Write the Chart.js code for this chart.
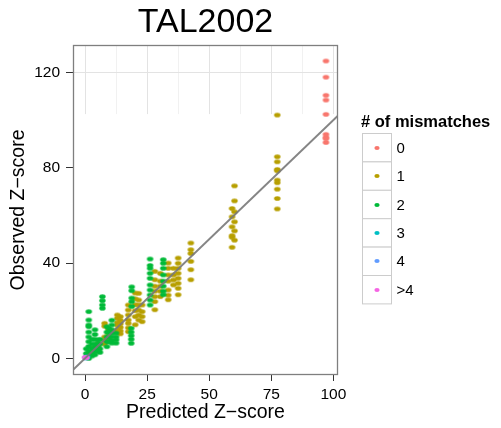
<!DOCTYPE html>
<html>
<head>
<meta charset="utf-8">
<title>TAL2002</title>
<script src="https://cdn.jsdelivr.net/npm/chart.js@4/dist/chart.umd.min.js"></script>
<style>
  html, body { margin: 0; padding: 0; background: #fff; }
</style>
</head>
<body>
<canvas id="chart" width="501" height="428"></canvas>
<script>
// mismatch classes and their colours (ggplot hue palette)
var mismatchLabels = ["0", "1", "2", "3", "4", ">4"];
var mismatchColors = ["#F8766D", "#B79F00", "#00BA38", "#00BFC4", "#619CFF", "#F564E3"];

var xTickValues = [0, 25, 50, 75, 100];
var yTickValues = [0, 40, 80, 120];

// 0 mismatches
var pred0 = [97, 97, 97, 97, 97, 97, 97, 97, 97];
var obs0 = [124.8, 118.0, 110.4, 108.4, 102.4, 94.0, 92.8, 92.2, 90.6];

// 1 mismatch
var pred1 = [
  77.4, 77.4, 77.4, 77.4, 77.4, 77.4, 77.4, 77.4, 77.4, 77.4,
  60.2, 60.2, 60.2, 60.2, 60.2, 60.2,
  59.2, 59.2, 59.2, 59.2, 59.2, 59.2,
  42.6, 42.6, 42.6, 42.6, 42.6, 42.6,
  37.5, 37.5, 37.5, 37.5, 37.5, 37.5, 37.5, 37.5,
  35.6, 35.6, 35.6, 35.6,
  33.5, 33.5, 33.5, 33.5, 33.5, 33.5, 33.5,
  30.3, 30.3, 30.3, 30.3, 30.3,
  28.1, 28.1, 28.1, 28.1, 28.1, 28.1, 28.1,
  23.0, 23.0, 23.0, 23.0,
  21.6, 21.6, 21.6, 21.6, 21.6, 21.6,
  20.2, 20.2, 20.2, 20.2, 20.2, 20.2,
  17.4, 17.4, 17.4, 17.4, 17.4, 17.4, 17.4,
  14.2, 14.2, 14.2, 14.2, 14.2, 14.2,
  13.0, 13.0, 13.0, 13.0, 13.0, 13.0,
  9.5, 9.5, 9.5,
  7.9, 7.9, 7.9, 7.9, 7.9,
  5.2, 5.2, 5.2,
  3.5, 3.5
];
var obs1 = [
  102.1, 84.6, 82.5, 79.3, 78.7, 74.8, 73.7, 71.0, 67.1, 62.7,
  72.4, 66.1, 61.5, 57.3, 53.5, 49.6,
  62.9, 59.4, 55.2, 50.8, 46.6, 51.5,
  48.4, 45.6, 44.0, 40.7, 37.2, 33.0,
  42.1, 39.9, 37.8, 35.7, 33.6, 31.5, 29.4, 26.7,
  37.8, 35.0, 32.9, 30.8,
  40.0, 37.8, 35.0, 32.4, 28.7, 26.5, 24.6,
  35.7, 32.4, 30.3, 28.2, 25.9,
  36.5, 33.0, 30.3, 28.2, 25.9, 23.8, 20.4,
  22.4, 19.6, 17.5, 15.4,
  27.3, 24.5, 22.4, 20.3, 18.2, 16.1,
  27.4, 25.0, 22.5, 20.0, 17.5, 14.1,
  22.4, 20.3, 18.2, 16.1, 14.7, 12.8, 11.2,
  17.5, 16.0, 14.5, 13.0, 11.5, 10.3,
  18.2, 16.8, 15.0, 13.9, 12.0, 11.0,
  12.0, 10.5, 8.4,
  14.7, 13.5, 9.0, 7.5, 6.0,
  6.3, 4.9, 3.5,
  3.0, 4.5
];

// 2 mismatches
var pred2 = [
  31.5, 31.5, 31.5, 31.5, 31.5, 31.5, 31.5, 31.5,
  26.2, 26.2, 26.2, 26.2, 26.2, 26.2, 26.2, 26.2, 26.2, 26.2,
  18.8, 18.8, 18.8, 18.8, 18.8,
  18.6, 18.6, 18.6, 18.6, 18.6,
  12.5, 12.5, 12.5, 12.5,
  10.8, 10.8, 10.8, 10.8, 10.8, 10.8, 10.8,
  9.6, 9.6, 9.6, 9.6,
  8.8, 8.8, 8.8, 8.8, 8.8,
  7.0, 7.0, 7.0, 7.0,
  6.0, 6.0, 6.0, 6.0,
  5.2, 5.2, 5.2, 5.2,
  4.0, 4.0, 4.0, 4.0, 4.0, 4.0, 4.0,
  2.8, 2.8, 2.8, 2.8, 2.8,
  1.5, 1.5, 1.5, 1.5, 1.5, 1.5, 1.5, 1.5, 1.5, 1.5, 1.5,
  0.5, 0.5, 0.5
];
var obs2 = [
  41.4, 39.9, 37.8, 35.0, 32.4, 30.3, 28.2, 26.7,
  41.7, 39.0, 37.8, 35.7, 33.6, 30.8, 28.7, 26.6, 24.5, 22.4,
  30.0, 28.4, 25.3, 23.8, 21.8,
  12.6, 11.0, 9.5, 8.0, 6.3,
  10.6, 9.0, 7.8, 6.4,
  16.0, 14.0, 12.0, 10.5, 9.0, 7.5, 6.4,
  12.6, 11.0, 9.0, 7.0,
  13.3, 11.0, 9.0, 7.0, 4.9,
  25.9, 24.2, 22.4, 21.0,
  8.0, 6.0, 4.0, 2.5,
  7.7, 6.0, 4.5, 3.0,
  12.0, 10.0, 8.0, 6.0, 4.5, 3.0, 1.5,
  8.0, 6.0, 4.0, 2.0, 1.0,
  19.6, 16.1, 14.0, 13.3, 11.0, 9.0, 7.0, 5.0, 3.0, 1.5, 0.0,
  4.0, 2.0, 0.5
];

// 3, 4 and more than 4 mismatches
var pred3 = [0.8, 0.3];
var obs3 = [0.6, 0.2];
var pred4 = [0.5];
var obs4 = [0.3];
var pred5 = [0.0, 0.6];
var obs5 = [0.4, 0.3];

// fitted line y = x
var lineX = [-10, 110];
var lineY = [-10, 110];

// gridlines are only drawn above this observed value
var gridFloor = 102.5;

var FONT = "'Liberation Sans', Arial, Helvetica, sans-serif";

function zip(xs, ys) {
  var out = [];
  for (var i = 0; i < xs.length; i++) out.push({ x: xs[i], y: ys[i] });
  return out;
}

// small horizontal ellipse used as point marker
function makeDot(color, rx, ry) {
  var c = document.createElement("canvas");
  c.width = Math.ceil(rx * 2) + 2;
  c.height = Math.ceil(ry * 2) + 2;
  var g = c.getContext("2d");
  g.fillStyle = color;
  g.beginPath();
  g.ellipse(c.width / 2, c.height / 2, rx, ry, 0, 0, Math.PI * 2);
  g.fill();
  return c;
}

var preds = [pred0, pred1, pred2, pred3, pred4, pred5];
var obss = [obs0, obs1, obs2, obs3, obs4, obs5];
var legendDots = [];

var datasets = [];
for (var i = 0; i < mismatchLabels.length; i++) {
  legendDots.push(makeDot(mismatchColors[i], 2.6, 1.9));
  datasets.push({
    type: "scatter",
    label: mismatchLabels[i],
    data: zip(preds[i], obss[i]),
    pointStyle: makeDot(mismatchColors[i], 3.2, 2.3),
    backgroundColor: mismatchColors[i],
    borderColor: mismatchColors[i],
    // green over gold, rare classes on top
    order: [6, 5, 4, 3, 2, 1][i]
  });
}
datasets.push({
  type: "line",
  label: "fit",
  data: zip(lineX, lineY),
  borderColor: "rgba(120,120,120,0.9)",
  borderWidth: 2,
  pointRadius: 0,
  fill: false,
  order: 0
});

var panelPlugin = {
  id: "panel",
  beforeDatasetsDraw: function (chart) {
    var ctx = chart.ctx, a = chart.chartArea;
    var xs = chart.scales.x, ys = chart.scales.y;
    var floorY = ys.getPixelForValue(gridFloor);
    ctx.save();
    ctx.lineWidth = 1;
    // vertical grid: minor lines between the major ones
    for (var i = 0; i < xTickValues.length; i++) {
      var px = Math.round(xs.getPixelForValue(xTickValues[i])) + 0.5;
      ctx.strokeStyle = "#e3e3e3";
      ctx.beginPath(); ctx.moveTo(px, a.top); ctx.lineTo(px, floorY); ctx.stroke();
      if (i < xTickValues.length - 1) {
        var mx = Math.round(xs.getPixelForValue((xTickValues[i] + xTickValues[i + 1]) / 2)) + 0.5;
        ctx.strokeStyle = "#f1f1f1";
        ctx.beginPath(); ctx.moveTo(mx, a.top); ctx.lineTo(mx, floorY); ctx.stroke();
      }
    }
    // horizontal grid above the floor
    for (var j = 0; j < yTickValues.length; j++) {
      if (yTickValues[j] <= gridFloor) continue;
      var py = Math.round(ys.getPixelForValue(yTickValues[j])) + 0.5;
      ctx.strokeStyle = "#e3e3e3";
      ctx.beginPath(); ctx.moveTo(a.left, py); ctx.lineTo(a.right, py); ctx.stroke();
    }
    ctx.restore();
  },
  afterDatasetsDraw: function (chart) {
    var ctx = chart.ctx, a = chart.chartArea;
    ctx.save();
    ctx.strokeStyle = "#7f7f7f";
    ctx.lineWidth = 1.3;
    ctx.strokeRect(a.left + 0.5, a.top + 0.5, a.right - a.left - 1, a.bottom - a.top - 1);
    ctx.restore();
  },
  afterDraw: function (chart) {
    // legend with boxed keys on the right
    var ctx = chart.ctx;
    var lx = 362.5, ly = 133.5, kw = 29, kh = 28.4;
    ctx.save();
    ctx.fillStyle = "#000";
    ctx.font = "bold 16.5px " + FONT;
    ctx.textBaseline = "alphabetic";
    ctx.textAlign = "left";
    ctx.fillText("# of mismatches", 361, 127);
    ctx.font = "15px " + FONT;
    ctx.textBaseline = "middle";
    for (var i = 0; i < mismatchLabels.length; i++) {
      var top = ly + i * kh;
      ctx.fillStyle = "#fff";
      ctx.fillRect(lx, top, kw, kh);
      ctx.strokeStyle = "#cccccc";
      ctx.lineWidth = 1;
      ctx.strokeRect(lx, top, kw, kh);
      var d = legendDots[i];
      ctx.drawImage(d, Math.round(lx + kw / 2 - d.width / 2), Math.round(top + kh / 2 - d.height / 2));
      ctx.fillStyle = "#000";
      ctx.fillText(mismatchLabels[i], lx + kw + 5, top + kh / 2 + 1);
    }
    ctx.restore();
  }
};

var ctx = document.getElementById("chart").getContext("2d");

var chart = new Chart(ctx, {
  type: "scatter",
  data: { datasets: datasets },
  options: {
    responsive: false,
    animation: false,
    devicePixelRatio: 1,
    layout: { padding: { left: 0, right: 163, top: 0, bottom: 0 } },
    plugins: {
      legend: { display: false },
      tooltip: { enabled: false },
      title: {
        display: true,
        text: "TAL2002",
        fullSize: false,
        color: "#000",
        font: { family: FONT, size: 34, weight: "normal", lineHeight: 1.2 },
        padding: { top: 2, bottom: 2.2 }
      }
    },
    scales: {
      x: {
        type: "linear",
        min: -4.85,
        max: 101.85,
        afterBuildTicks: function (axis) {
          axis.ticks = xTickValues.map(function (v) { return { value: v }; });
        },
        afterFit: function (axis) { axis.height = 53; },
        border: { display: false },
        grid: { drawOnChartArea: false, drawTicks: true, tickLength: 6, tickColor: "#333", tickWidth: 1 },
        ticks: { color: "#000", padding: 4, maxRotation: 0, font: { family: FONT, size: 15.5 } },
        title: {
          display: true,
          text: "Predicted Z\u2212score",
          color: "#000",
          font: { family: FONT, size: 19.5, lineHeight: 1.2 },
          padding: { top: 0, bottom: 3.5 }
        }
      },
      y: {
        type: "linear",
        min: -7,
        max: 131.5,
        afterBuildTicks: function (axis) {
          axis.ticks = yTickValues.map(function (v) { return { value: v }; });
        },
        afterFit: function (axis) { axis.width = 73; },
        border: { display: false },
        grid: { drawOnChartArea: false, drawTicks: true, tickLength: 7, tickColor: "#333", tickWidth: 1 },
        ticks: { color: "#000", padding: 6, font: { family: FONT, size: 15.5 } },
        title: {
          display: true,
          text: "Observed Z\u2212score",
          color: "#000",
          font: { family: FONT, size: 19.5, lineHeight: 1.2 },
          padding: { top: 7, bottom: 0 }
        }
      }
    }
  },
  plugins: [panelPlugin]
});
</script>
</body>
</html>
